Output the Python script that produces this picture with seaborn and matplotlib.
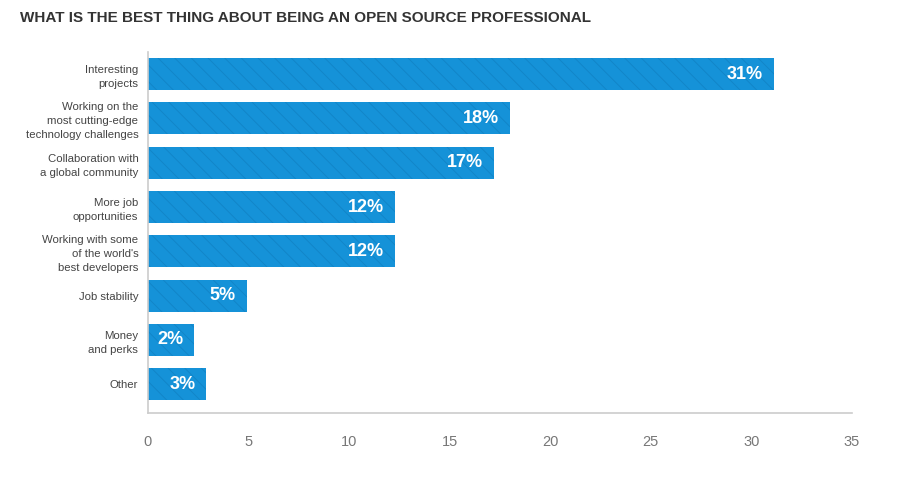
import matplotlib
matplotlib.use("Agg")
import matplotlib.pyplot as plt
import seaborn as sns
import pandas as pd

categories = [
    "Interesting\nprojects",
    "Working on the\nmost cutting-edge\ntechnology challenges",
    "Collaboration with\na global community",
    "More job\nopportunities",
    "Working with some\nof the world's\nbest developers",
    "Job stability",
    "Money\nand perks",
    "Other",
]
values = [31.1, 18.0, 17.2, 12.3, 12.3, 4.9, 2.3, 2.9]
value_labels = ["31%", "18%", "17%", "12%", "12%", "5%", "2%", "3%"]
x_ticks = [0, 5, 10, 15, 20, 25, 30, 35]

sns.set_theme(style="white")
plt.rcParams["font.family"] = ["Liberation Sans", "DejaVu Sans"]
plt.rcParams["hatch.linewidth"] = 0.6

df = pd.DataFrame({"category": categories, "value": values})

fig = plt.figure(figsize=(9.06, 4.8), dpi=100)
ax = fig.add_axes([148 / 906, 1 - 413 / 480, (852 - 148) / 906, (413 - 52) / 480])

sns.barplot(data=df, x="value", y="category", orient="h", color="#1592D8",
            saturation=1, width=0.72, ax=ax)
for p in ax.patches:
    p.set_hatch("\\\\")
    p.set_edgecolor("#1284C6")
    p.set_linewidth(0)

ax.set_xlim(0, 35)
ax.set_ylim(7.65, -0.5)
ax.set_xticks(x_ticks)
ax.set_xticklabels([str(t) for t in x_ticks])
ax.set_xlabel("")
ax.set_ylabel("")
ax.tick_params(axis="x", length=0, pad=16, labelsize=10.5, labelcolor="#777777")
ax.tick_params(axis="y", length=0, pad=7, labelsize=8.2, labelcolor="#444444")
for lbl in ax.get_yticklabels():
    lbl.set_linespacing(1.5)

for s in ["top", "right"]:
    ax.spines[s].set_visible(False)
for s in ["left", "bottom"]:
    ax.spines[s].set_color("#cccccc")
    ax.spines[s].set_linewidth(1.2)

for i, (v, lab) in enumerate(zip(values, value_labels)):
    ax.annotate(lab, xy=(v, i), xytext=(-11, 0), textcoords="offset pixels",
                ha="right", va="center", color="white", fontsize=13,
                fontweight="bold")

fig.text(20 / 906, 1 - 18 / 480, "WHAT IS THE BEST THING ABOUT BEING AN OPEN SOURCE PROFESSIONAL",
         ha="left", va="center", fontsize=11, fontweight="bold", color="#333333")

fig.savefig("out.png", dpi=100)
